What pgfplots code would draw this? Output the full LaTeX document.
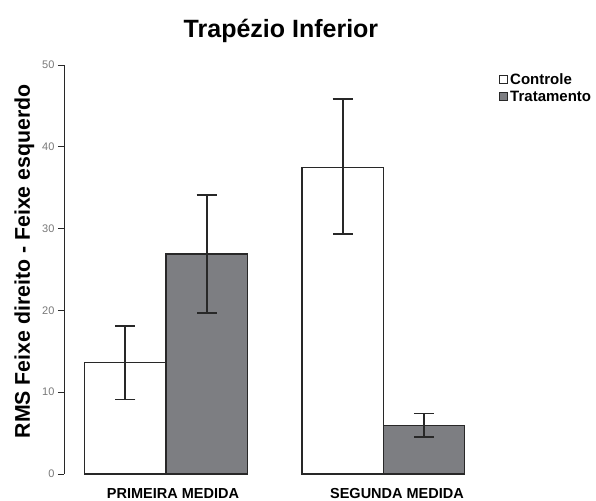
\documentclass[border=0pt]{standalone}
\usepackage{fontspec}
\setmainfont{Liberation Sans}
\usepackage{pgfplots}
\pgfplotsset{compat=1.18}
\definecolor{barfill}{RGB}{125,126,130}
\definecolor{edge}{RGB}{40,40,40}
\definecolor{tickgray}{RGB}{120,120,120}
\begin{document}
\begin{tikzpicture}
\begin{axis}[
  scale only axis,
  width=416pt, height=409pt,
  xmin=-0.4694, xmax=1.445,
  ymin=0, ymax=50,
  axis lines=left,
  axis line style={-, draw=edge, line width=0.9pt},
  x axis line style={draw=none},
  ytick={0,10,20,30,40,50},
  xtick={0.032,1.063},
  xticklabels={PRIMEIRA MEDIDA, SEGUNDA MEDIDA},
  x tick label style={font=\fontsize{14.5}{15}\selectfont\bfseries, text=black, anchor=base, yshift=-18pt},
  y tick label style={font=\fontsize{11}{11}\selectfont, text=tickgray},
  /pgf/number format/assume math mode=true,
  major x tick style={draw=none},
  major y tick style={draw=edge, line width=0.8pt},
  tick align=outside,
  major tick length=6pt,
  ylabel={RMS Feixe direito - Feixe esquerdo},
  ylabel style={font=\fontsize{21.3}{22}\selectfont\bfseries, at={(axis description cs:-0.082,0.52)}, anchor=base},
  title={Trapézio Inferior},
  title style={font=\fontsize{25}{26}\selectfont\bfseries, at={(axis description cs:0.5216,1)}, anchor=base, yshift=21pt},
  ybar,
  bar width=0.3741,
  legend style={at={(axis description cs:1.046,0.985)}, anchor=north west, draw=none, fill=none,
    font=\fontsize{15}{15}\selectfont\bfseries, row sep=1pt, inner sep=0pt},
  legend cell align=left,
  legend image code/.code={\draw[#1, line width=0.9pt, draw=edge] (0pt,-4pt) rectangle (8pt,4pt);},
  error bars/y dir=both,
  error bars/y explicit,
  error bars/error bar style={line width=1.8pt, draw=edge},
  error bars/error mark options={rotate=90, mark size=10pt, line width=1.8pt, draw=edge},
]
\addplot[bar shift=-0.18705, fill=white, draw=edge, line width=1.3pt]
  coordinates {(0,13.6) += (0,4.5) -= (0,4.5) (1,37.5) += (0,8.3) -= (0,8.2)};
\addplot[bar shift=0.18705, fill=barfill, draw=edge, line width=1.3pt]
  coordinates {(0,26.9) += (0,7.2) -= (0,7.2) (1,5.9) += (0,1.5) -= (0,1.4)};
\legend{Controle, Tratamento}
\end{axis}
\pgfresetboundingbox
\useasboundingbox (-64pt,-26pt) rectangle (532pt,474pt);
\end{tikzpicture}
\end{document}
